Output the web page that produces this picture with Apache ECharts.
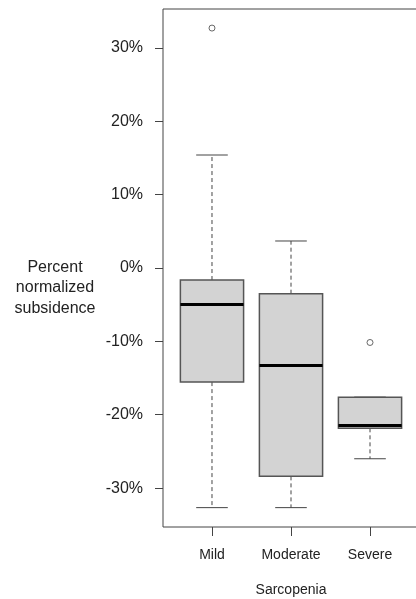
<!DOCTYPE html>
<html>
<head>
<meta charset="utf-8">
<script src="https://cdn.jsdelivr.net/npm/echarts@6/dist/echarts.min.js"></script>
<style>html,body{margin:0;padding:0;background:#fff}#c{width:416px;height:599px}</style>
</head>
<body>
<div id="c"></div>
<script>
var categories = ['Mild', 'Moderate', 'Severe'];
var whiskerLow = [-32.66, -32.66, -26.0];
var q1 = [-15.55, -28.4, -21.85];
var medians = [-4.97, -13.3, -21.45];
var q3 = [-1.64, -3.5, -17.6];
var whiskerHigh = [15.4, 3.68, -17.6];
var outliers = [[1, 32.7], [3, -10.15]];
var yTicks = [-30, -20, -10, 0, 10, 20, 30];

var chart = echarts.init(document.getElementById('c'));
var font = 'Liberation Sans, Arial, sans-serif';
var boxData = categories.map(function (c, i) {
  return [i + 1, whiskerLow[i], q1[i], medians[i], q3[i], whiskerHigh[i]];
});

function renderBox(params, api) {
  var x = api.value(0);
  var pLow = api.coord([x, api.value(1)]);
  var pQ1 = api.coord([x, api.value(2)]);
  var pMed = api.coord([x, api.value(3)]);
  var pQ3 = api.coord([x, api.value(4)]);
  var pHigh = api.coord([x, api.value(5)]);
  var halfBox = (api.coord([x + 0.4, 0])[0] - api.coord([x, 0])[0]);
  var halfCap = halfBox / 2;
  var cx = pQ1[0];
  var lineColor = '#444';
  var children = [];
  children.push({type: 'line', shape: {x1: cx, y1: pQ1[1], x2: cx, y2: pLow[1]},
    style: {stroke: lineColor, lineWidth: 1, lineDash: [4, 3]}});
  if (pHigh[1] < pQ3[1] - 0.5) {
    children.push({type: 'line', shape: {x1: cx, y1: pQ3[1], x2: cx, y2: pHigh[1]},
      style: {stroke: lineColor, lineWidth: 1, lineDash: [4, 3]}});
  }
  children.push({type: 'line', shape: {x1: cx - halfCap, y1: pLow[1], x2: cx + halfCap, y2: pLow[1]},
    style: {stroke: lineColor, lineWidth: 1}});
  children.push({type: 'line', shape: {x1: cx - halfCap, y1: pHigh[1], x2: cx + halfCap, y2: pHigh[1]},
    style: {stroke: lineColor, lineWidth: 1}});
  children.push({type: 'rect', shape: {x: cx - halfBox, y: pQ3[1], width: 2 * halfBox, height: pQ1[1] - pQ3[1]},
    style: {fill: '#d3d3d3', stroke: '#555', lineWidth: 1.5}});
  children.push({type: 'line', shape: {x1: cx - halfBox, y1: pMed[1], x2: cx + halfBox, y2: pMed[1]},
    style: {stroke: '#000', lineWidth: 3}});
  return {type: 'group', children: children};
}

chart.setOption({
  animation: false,
  grid: {left: 163, top: 9, right: -3, bottom: 72, outerBoundsMode: 'none', containLabel: false,
    show: true, borderColor: '#444', borderWidth: 1, backgroundColor: 'transparent'},
  xAxis: {
    type: 'value', min: 0.38, max: 3.62,
    splitLine: {show: false},
    axisLine: {show: false, onZero: false},
    axisTick: {show: true, length: 9, customValues: [1, 2, 3], lineStyle: {color: '#444'}},
    axisLabel: {show: true, customValues: [1, 2, 3], margin: 21, fontSize: 14, color: '#222', fontFamily: font,
      formatter: function (v) { return categories[Math.round(v) - 1] || ''; }},
    name: 'Sarcopenia', nameLocation: 'middle', nameGap: 56,
    nameTextStyle: {fontSize: 14, color: '#222', fontFamily: font}
  },
  yAxis: {
    type: 'value', min: -35.3, max: 35.3,
    splitLine: {show: false},
    axisLine: {show: false, onZero: false},
    axisTick: {show: true, length: 8, customValues: yTicks, lineStyle: {color: '#444'}},
    axisLabel: {show: true, customValues: yTicks, margin: 20, fontSize: 16, color: '#222', fontFamily: font,
      formatter: function (v) { return Math.round(v) + '%'; }}
  },
  graphic: [{
    type: 'text', x: 55, y: 288,
    style: {text: 'Percent\nnormalized\nsubsidence', fontSize: 16, lineHeight: 20.3, fill: '#222', fontFamily: font,
      align: 'center', verticalAlign: 'middle'}
  }],
  series: [{
    type: 'custom', renderItem: renderBox, data: boxData,
    encode: {x: 0, y: [1, 2, 3, 4, 5]}, clip: false
  }, {
    type: 'scatter', data: outliers, symbol: 'circle', symbolSize: 6,
    itemStyle: {color: '#fff', borderColor: '#444', borderWidth: 1}
  }]
});
</script>
</body>
</html>
